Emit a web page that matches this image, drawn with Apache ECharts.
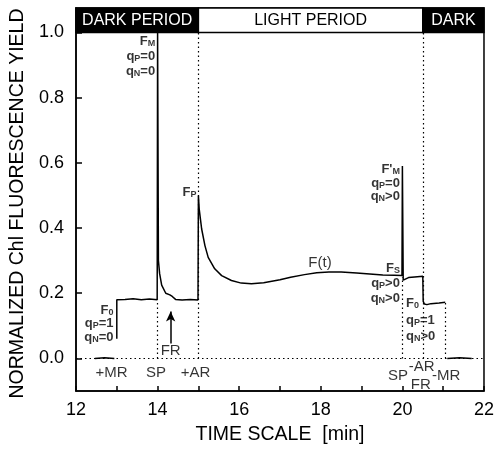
<!DOCTYPE html>
<html>
<head>
<meta charset="utf-8">
<script src="https://cdn.jsdelivr.net/npm/echarts@6/dist/echarts.min.js"></script>
<style>
  html, body { margin: 0; padding: 0; background: #fff; }
  #chart { width: 497px; height: 450px; }
</style>
</head>
<body>
<div id="chart"></div>
<script>
// trace: [time min, yield], null = pen lifted
var trace = [
    [12.46, 0.0], [12.7, 0.002], [12.94, 0.0], null,
    [13.0, 0.06], [13.0, 0.18], [13.02, 0.183], [13.2, 0.181], [13.4, 0.183], [13.6, 0.18],
    [13.8, 0.182], [13.99, 0.18],
    [14.0, 1.0], [14.02, 0.3], [14.05, 0.26], [14.1, 0.225], [14.2, 0.2], [14.3, 0.195],
    [14.36, 0.19], [14.44, 0.181], [14.6, 0.179], [14.8, 0.181], [14.99, 0.179],
    [15.0, 0.50], [15.02, 0.458], [15.08, 0.397], [15.16, 0.346], [15.24, 0.31], [15.4, 0.275],
    [15.57, 0.254], [15.81, 0.239], [16.05, 0.231], [16.3, 0.229], [16.6, 0.232], [17.0, 0.241],
    [17.26, 0.249], [17.6, 0.257], [17.9, 0.263], [18.2, 0.265], [18.5, 0.265], [18.88, 0.262],
    [19.2, 0.259], [19.52, 0.256], [19.8, 0.255], [19.99, 0.254],
    [20.0, 0.59], [20.02, 0.24], [20.06, 0.243], [20.15, 0.248], [20.3, 0.25], [20.5, 0.252],
    [20.51, 0.175], [20.54, 0.167], [20.6, 0.165], [20.7, 0.168], [20.9, 0.17], [21.05, 0.172], null,
    [21.1, 0.0], [21.4, 0.002], [21.7, 0.0]
];

// dotted guide lines [x0, y0, x1, y1]
var guides = [
    [12, 0, 22, 0],
    [14, 0, 14, 0.18],
    [15, 0, 15, 1.0],
    [20, 0, 20, 0.25],
    [20.5, 0, 20.5, 1.0],
    [21.05, 0, 21.05, 0.17]
];

// header periods: [from, to, text, dark?]
var periods = [
    [12, 15, 'DARK PERIOD', true],
    [15, 20.5, 'LIGHT PERIOD', false],
    [20.5, 22, 'DARK', true]
];

// annotations: [x, y, text, align, kind]  kind: big = event labels, small = F/q labels
var notes = [
    [13.94, 0.971, 'F{s|M}', 'right', 'small'],
    [13.94, 0.925, 'q{s|P}=0', 'right', 'small'],
    [13.94, 0.879, 'q{s|N}=0', 'right', 'small'],
    [14.955, 0.510, 'F{s|P}', 'right', 'small'],
    [12.92, 0.147, 'F{s|0}', 'right', 'small'],
    [12.92, 0.108, 'q{s|P}=1', 'right', 'small'],
    [12.92, 0.065, 'q{s|N}=0', 'right', 'small'],
    [19.94, 0.580, "F'{s|M}", 'right', 'small'],
    [19.94, 0.538, 'q{s|P}=0', 'right', 'small'],
    [19.94, 0.498, 'q{s|N}>0', 'right', 'small'],
    [19.94, 0.275, 'F{s|S}', 'right', 'small'],
    [19.94, 0.229, 'q{s|P}>0', 'right', 'small'],
    [19.94, 0.184, 'q{s|N}>0', 'right', 'small'],
    [20.09, 0.169, 'F{s|0}', 'left', 'small'],
    [20.09, 0.117, 'q{s|P}=1', 'left', 'small'],
    [20.09, 0.068, 'q{s|N}>0', 'left', 'small'],
    [17.98, 0.294, 'F(t)', 'center', 'big'],
    [12.87, -0.045, '+MR', 'center', 'big'],
    [13.96, -0.045, 'SP', 'center', 'big'],
    [14.93, -0.045, '+AR', 'center', 'big'],
    [14.32, 0.022, 'FR', 'center', 'big'],
    [19.89, -0.054, 'SP', 'center', 'big'],
    [20.47, -0.026, '-AR', 'center', 'big'],
    [20.45, -0.082, 'FR', 'center', 'big'],
    [21.07, -0.054, '-MR', 'center', 'big']
];

// FR arrow
var arrow = [[14.32, 0.046], [14.32, 0.144]];

var yTicks = [0, 0.2, 0.4, 0.6, 0.8, 1.0];
var xLabels = [12, 14, 16, 18, 20, 22];

var myChart = echarts.init(document.getElementById('chart'));
var font = '"Liberation Sans", Arial, sans-serif';

var noteData = notes.map(function (n) {
    var small = n[4] === 'small';
    return {
        value: [n[0], n[1]],
        label: {
            show: true,
            position: [0, 0],
            align: n[3],
            verticalAlign: 'middle',
            formatter: n[2],
            fontFamily: font,
            fontSize: small ? 13 : 15,
            fontWeight: small ? 'bold' : 'normal',
            color: '#000',
            rich: {
                s: {fontSize: 9, fontWeight: 'bold', fontFamily: font, verticalAlign: 'bottom', lineHeight: 9, color: '#000'}
            }
        }
    };
});

var option = {
    animation: false,
    grid: {
        left: 76, right: 8, top: 8, bottom: 57,
        show: true, borderColor: '#000', borderWidth: 1.5, backgroundColor: 'transparent'
    },
    xAxis: {
        type: 'value',
        min: 12, max: 22, interval: 1,
        name: 'TIME SCALE  [min]',
        nameLocation: 'middle',
        nameGap: 34,
        nameTextStyle: {fontFamily: font, fontSize: 19.5, color: '#000'},
        axisLine: {onZero: false, lineStyle: {color: '#000', width: 1.5}},
        axisTick: {inside: true, length: 5, lineStyle: {color: '#000', width: 1.5}},
        axisLabel: {
            customValues: xLabels,
            margin: 10,
            fontFamily: font, fontSize: 18, color: '#000'
        },
        splitLine: {show: false}
    },
    yAxis: {
        type: 'value',
        min: -0.1, max: 1.075,
        name: 'NORMALIZED Chl FLUORESCENCE YIELD',
        nameLocation: 'middle',
        nameGap: 41,
        nameTextStyle: {fontFamily: font, fontSize: 19.5, color: '#000', padding: [0, 8, 0, 0]},
        axisLine: {onZero: false, lineStyle: {color: '#000', width: 1.5}},
        axisTick: {inside: true, length: 6, customValues: yTicks, lineStyle: {color: '#000', width: 1.5}},
        axisLabel: {
            customValues: yTicks,
            margin: 12,
            fontFamily: font, fontSize: 18, color: '#000',
            formatter: function (v) { return v.toFixed(1); }
        },
        splitLine: {show: false}
    },
    series: [
        {
            name: 'trace',
            type: 'line',
            data: trace,
            symbol: 'none',
            connectNulls: false,
            lineStyle: {color: '#000', width: 1.5},
            z: 3,
            markArea: {
                silent: true,
                data: periods.map(function (p) {
                    return [{
                        coord: [p[0], 1.0],
                        itemStyle: {color: p[3] ? '#000' : '#fff', borderColor: '#000', borderWidth: 1.5},
                        label: {
                            show: true, position: 'inside', formatter: p[2],
                            fontFamily: font, fontSize: 16, color: p[3] ? '#fff' : '#000'
                        }
                    }, {coord: [p[1], 1.075]}];
                })
            },
            markLine: {
                silent: true,
                symbol: 'none',
                label: {show: false},
                lineStyle: {color: '#000', type: [1.5, 3], width: 1.2},
                data: guides.map(function (g) {
                    return [{coord: [g[0], g[1]]}, {coord: [g[2], g[3]]}];
                })
            }
        },
        {
            name: 'arrow',
            type: 'line',
            data: [],
            markLine: {
                silent: true,
                symbol: ['none', 'arrow'],
                symbolSize: [7, 10],
                label: {show: false},
                lineStyle: {color: '#000', type: 'solid', width: 1.5},
                data: [[{coord: arrow[0]}, {coord: arrow[1]}]]
            }
        },
        {
            name: 'notes',
            type: 'scatter',
            symbolSize: 0,
            silent: true,
            data: noteData,
            z: 5
        }
    ]
};

myChart.setOption(option);
</script>
</body>
</html>
